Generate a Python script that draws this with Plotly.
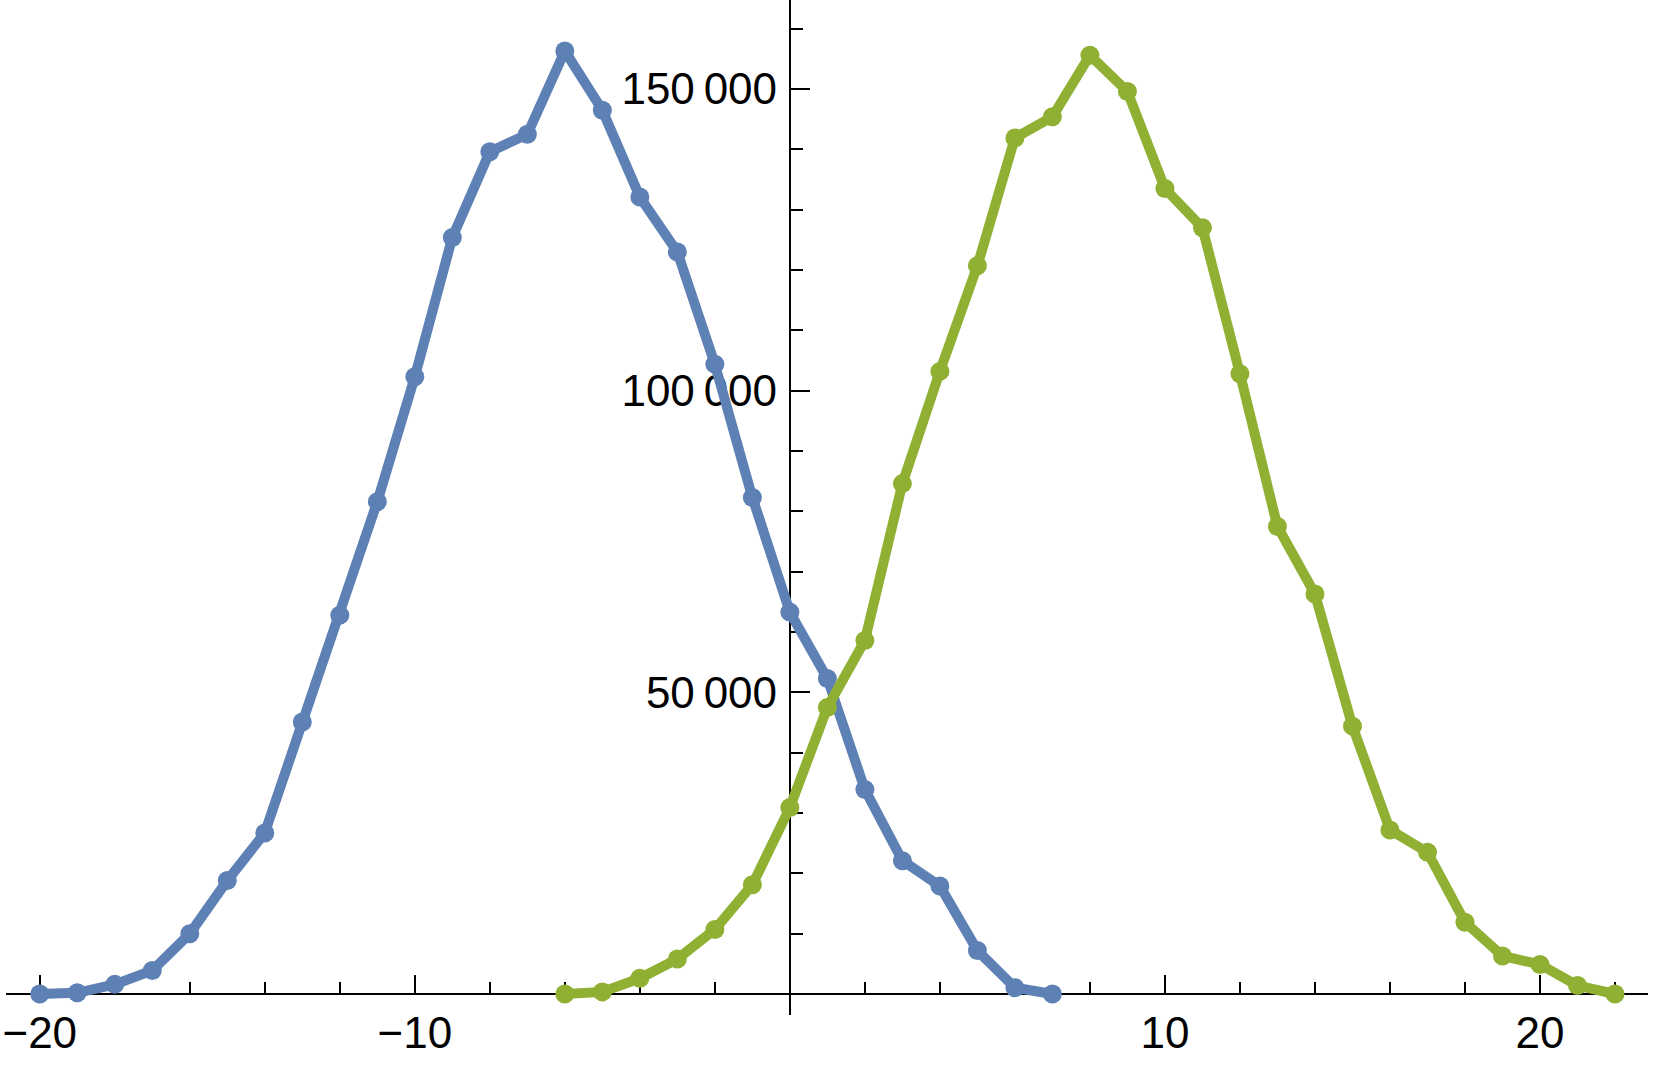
import plotly.graph_objects as go

# series 1 (blue) and series 2 (green)
x_blue = list(range(-20, 8))
y_blue = [0, 200, 1600, 3900, 10000, 18800, 26700, 45100, 62800, 81600,
          102300, 125400, 139600, 142500, 156300, 146500, 132100, 123000,
          104400, 82300, 63300, 52300, 33900, 22100, 17900, 7200, 1050, 0]

x_green = list(range(-6, 23))
y_green = [0, 350, 2600, 5800, 10700, 18100, 30900, 47500, 58600, 84600,
           103200, 120700, 141900, 145400, 155600, 149600, 133500, 127000,
           102800, 77500, 66300, 44400, 27200, 23500, 11900, 6300, 4900, 1400, 0]

x_tickvals = [-20, -10, 10, 20]
x_ticktext = ["\u221220", "\u221210", "10", "20"]
y_tickvals = [50000, 100000, 150000]
y_ticktext = ["50\u2009000", "100\u2009000", "150\u2009000"]

xr = [-20.9, 22.88]
yr = [-3480, 164760]

blue = "#5E81B5"
green = "#8FB032"

fig = go.Figure()
fig.add_trace(go.Scatter(x=x_blue, y=y_blue, mode="lines+markers",
                         line=dict(color=blue, width=10),
                         marker=dict(color=blue, size=19)))
fig.add_trace(go.Scatter(x=x_green, y=y_green, mode="lines+markers",
                         line=dict(color=green, width=10),
                         marker=dict(color=green, size=19)))

# axes cross at the origin, like Mathematica's Axes
xpos = (0 - yr[0]) / (yr[1] - yr[0])
ypos = (0 - xr[0]) / (xr[1] - xr[0])

fig.update_layout(
    width=1661, height=1067,
    margin=dict(l=6, r=13, t=0, b=52),
    paper_bgcolor="white", plot_bgcolor="white",
    showlegend=False,
    font=dict(family="Liberation Sans", size=44, color="black"),
    xaxis=dict(
        range=xr, anchor="free", position=xpos,
        showgrid=False, zeroline=False, showline=True,
        linecolor="black", linewidth=2, layer="below traces",
        tickmode="array", tickvals=x_tickvals, ticktext=x_ticktext,
        ticks="inside", ticklen=18, tickwidth=2, tickcolor="black",
        minor=dict(dtick=2, tick0=0, ticks="inside", ticklen=11,
                   tickwidth=2, tickcolor="black", showgrid=False),
        automargin=False,
    ),
    yaxis=dict(
        range=yr, anchor="free", position=ypos,
        showgrid=False, zeroline=False, showline=True,
        linecolor="black", linewidth=2, layer="below traces",
        tickmode="array", tickvals=y_tickvals, ticktext=y_ticktext,
        ticks="inside", ticklen=19, tickwidth=2, tickcolor="black",
        ticklabelstandoff=3,
        minor=dict(dtick=10000, tick0=0, ticks="inside", ticklen=12,
                   tickwidth=2, tickcolor="black", showgrid=False),
        automargin=False,
    ),
)

# drop the browser's default page margin so the figure sits at the corner
fig.write_html("out.html",
               config={"displayModeBar": False},
               post_script="document.body.style.margin='0';")
